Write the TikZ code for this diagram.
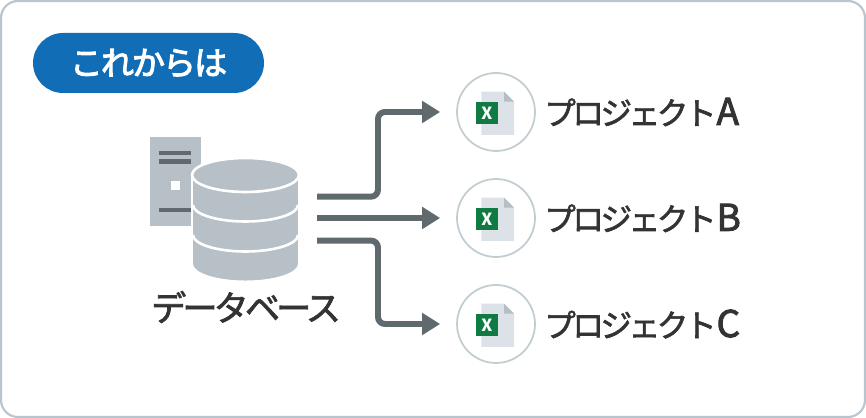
\documentclass[tikz,border=0pt]{standalone}
\usepackage{fontspec}
\usepackage{xcolor}
\usetikzlibrary{arrows.meta, positioning}
\setmainfont{Noto Sans CJK JP}
\newfontfamily\medfont[FakeBold=2, LetterSpace=-11]{Noto Sans CJK JP}
\newfontfamily\latfont[FakeBold=2.5]{Noto Sans CJK JP}
\newfontfamily\pillfont[FakeBold=3, LetterSpace=-6]{Noto Sans CJK JP}

\definecolor{framegray}{HTML}{B9C5CC}
\definecolor{pillblue}{HTML}{116DB6}
\definecolor{dbgray}{HTML}{B6C0C6}
\definecolor{bargray}{HTML}{5F696E}
\definecolor{ringgray}{HTML}{C2CDD2}
\definecolor{docgray}{HTML}{DCE2E7}
\definecolor{foldgray}{HTML}{B4BEC3}
\definecolor{xlgreen}{HTML}{0F7B43}
\definecolor{textgray}{HTML}{333333}

\tikzset{
   ring/.style={circle, draw=ringgray, line width=1pt, minimum size=1.56cm, inner sep=0pt},
   label/.style={inner sep=0pt, text=textgray, font=\fontsize{18pt}{20pt}\selectfont\medfont},
   pill/.style={fill=pillblue, rounded corners=0.6cm, minimum width=4.62cm, minimum height=1.2cm,
      inner sep=0pt, text=white, font=\fontsize{18.8pt}{20pt}\selectfont\pillfont},
   conn/.style={draw=bargray, line width=3.4pt, rounded corners=0.14cm, shorten >=0.32cm,
      -{Triangle[length=10.2pt, width=12pt]}},
}

% groesserer lateinischer Buchstabe hinter dem Projektnamen
\newcommand{\biglat}[1]{{\fontsize{21pt}{20pt}\selectfont\latfont #1}}

% Excel-Symbol in einem Kreis
\newcommand{\xlicon}[1]{
   \begin{scope}[shift={(#1)}]
      \fill[docgray] (-14.7,20.3) -- (8,20.3) -- (18,10.3) -- (18,-23) -- (-14.7,-23) -- cycle;
      \fill[foldgray] (8,20.3) -- (18,10.3) -- (8,10.3) -- cycle;
      \fill[xlgreen] (-20,10) rectangle (1.7,-12);
      \node[text=white, inner sep=0pt, font=\fontsize{9.5pt}{10pt}\selectfont\bfseries] (#1x) at (-9.1,-1) {X};
   \end{scope}
}

\begin{document}
\begin{tikzpicture}[x=0.02cm, y=0.02cm]

         \useasboundingbox (0,0) rectangle (866,418);

         % Rahmen
         \draw[framegray, line width=1.2pt, rounded corners=0.34cm, fill=white] (1,1) rectangle (865,417);

         % Titel
         \node[pill] (T) at (148.5,355) {これからは};

         % Server
         \fill[dbgray] (150,191.5) rectangle (200.5,281);
         \fill[bargray] (159,263) rectangle (191,266.5);
         \fill[bargray] (159,254) rectangle (191,258.5);
         \fill[bargray] (159,206) rectangle (191,210);
         \fill[white] (171,228) rectangle (180,237);

         % Datenbank
         \draw[white, line width=1.1pt, fill=dbgray]
            (192,243) -- (192,154)
            arc[start angle=180, end angle=360, x radius=1.07cm, y radius=0.35cm]
            -- (299,243) -- cycle;
         \draw[white, line width=1.5pt, fill=dbgray] (245.5,243) ellipse [x radius=1.07cm, y radius=0.34cm];
         \draw[white, line width=1.5pt] (193,213) arc[start angle=180, end angle=360, x radius=1.05cm, y radius=0.33cm];
         \draw[white, line width=1.5pt] (193,183) arc[start angle=180, end angle=360, x radius=1.05cm, y radius=0.33cm];

         \node[label, font=\fontsize{20pt}{22pt}\selectfont\medfont] (D) at (246,111) {データベース};

         % Projekte
         \node[ring] (A) at (496,306) {};
         \node[ring] (B) at (496,200) {};
         \node[ring] (C) at (496,94) {};

         \xlicon{A}
         \xlicon{B}
         \xlicon{C}

         \node[label, right=0.16cm of A] (LA) {プロジェクト\biglat{A}};
         \node[label, right=0.16cm of B] (LB) {プロジェクト\biglat{B}};
         \node[label, right=0.16cm of C] (LC) {プロジェクト\biglat{C}};

         % Pfeile
         \coordinate (DA) at (317,221.3);
         \coordinate (DB) at (317,200);
         \coordinate (DC) at (317,177.4);
         \draw[conn] (DA) -- ++(61,0) |- (A);
         \draw[conn] (DB) -- (B);
         \draw[conn] (DC) -- ++(61,0) |- (C);

      \end{tikzpicture}
\end{document}
